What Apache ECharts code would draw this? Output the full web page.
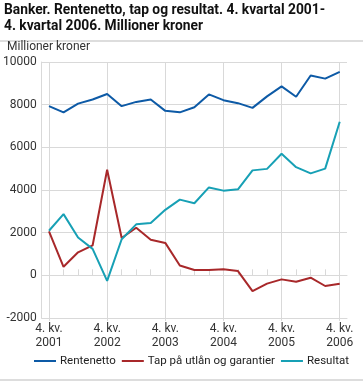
<!DOCTYPE html>
<html><head><meta charset="utf-8">
<script src="https://cdn.jsdelivr.net/npm/echarts@6/dist/echarts.min.js"></script>
<style>html,body{margin:0;padding:0;background:#fff}#c{width:363px;height:382px}</style>
</head><body><div id="c"></div>
<script>
const categories = [
 "4. kv. 2001","1. kv. 2002","2. kv. 2002","3. kv. 2002","4. kv. 2002",
 "1. kv. 2003","2. kv. 2003","3. kv. 2003","4. kv. 2003",
 "1. kv. 2004","2. kv. 2004","3. kv. 2004","4. kv. 2004",
 "1. kv. 2005","2. kv. 2005","3. kv. 2005","4. kv. 2005",
 "1. kv. 2006","2. kv. 2006","3. kv. 2006","4. kv. 2006"];
const rentenetto = [7930,7640,8050,8240,8500,7930,8130,8240,7710,7640,7880,8480,8210,8070,7850,8390,8860,8370,9370,9220,9540];
const tap = [2060,400,1080,1400,4950,1750,2230,1670,1520,460,250,250,290,200,-740,-390,-190,-300,-110,-500,-390];
const resultat = [2090,2870,1770,1240,-260,1690,2390,2450,3070,3550,3380,4120,3970,4030,4920,4990,5700,5070,4780,5000,7200];
const yTicks = {min:-2000, max:10000, interval:2000};
const seriesNames = ["Rentenetto","Tap på utlån og garantier","Resultat"];
const colors = ["#0d5aa6","#a8282a","#17a0b5"];
const title1 = "Banker. Rentenetto, tap og resultat. 4. kvartal 2001-";
const title2 = "4. kvartal 2006. Millioner kroner";
const yName = "Millioner kroner";

const font = "Roboto, 'Liberation Sans', sans-serif";
const chart = echarts.init(document.getElementById('c'), null, {renderer:'canvas'});
const grid = '#d9d9d9';
chart.setOption({
  animation:false,
  color: colors,
  textStyle:{fontFamily:font},
  graphic:[
    {type:'text', left:4, top:3, style:{text:title1+"\n"+title2, font:"bold 13.8px "+font, fill:'#111', lineHeight:16}},
    {type:'line', shape:{x1:0,y1:41,x2:363,y2:41}, style:{stroke:'#bbb', lineWidth:1}},
    {type:'line', shape:{x1:0,y1:380,x2:363,y2:380}, style:{stroke:'#bbb', lineWidth:1}},
    {type:'text', left:7, top:41, style:{text:yName, font:"12px "+font, fill:'#333'}}
  ],
  grid:{left:40, right:16, top:62, bottom:64},
  legend:{bottom:10, left:29, width:340, itemWidth:22, itemHeight:2, itemGap:6,
    textStyle:{fontSize:11.5, color:'#222', fontFamily:font, padding:[0,0,0,-1]},
    data:seriesNames.map((n,i)=>({name:n, icon:'rect'}))},
  xAxis:[{
    type:'category', data:categories, boundaryGap:true, position:'bottom',
    axisLine:{onZero:false, lineStyle:{color:grid}},
    axisTick:{show:true, alignWithLabel:true, interval:3, length:3, lineStyle:{color:grid}},
    axisLabel:{interval:3, color:'#333', fontSize:12, lineHeight:14, margin:4,
      formatter:v=>v.replace(/ (\d{4})$/, '\n$1')},
    splitLine:{show:true, interval:3, alignWithLabel:true, lineStyle:{color:grid, width:1}}
  },{
    type:'category', data:categories, boundaryGap:true, position:'bottom',
    axisLine:{show:true, onZero:true, lineStyle:{color:grid}},
    axisTick:{show:true, inside:true, alignWithLabel:true, interval:0, length:6, lineStyle:{color:grid}},
    axisLabel:{show:false}, splitLine:{show:false}
  }],
  yAxis:{type:'value', min:yTicks.min, max:yTicks.max, interval:yTicks.interval,
    axisLine:{show:true, lineStyle:{color:grid}},
    axisTick:{show:false},
    axisLabel:{color:'#333', fontSize:12, margin:5, formatter:v=>String(v)},
    splitLine:{lineStyle:{color:grid, width:1}}},
  series:[
    {name:seriesNames[0], type:'line', data:rentenetto, symbol:'none', lineStyle:{width:2}},
    {name:seriesNames[1], type:'line', data:tap, symbol:'none', lineStyle:{width:2}},
    {name:seriesNames[2], type:'line', data:resultat, symbol:'none', lineStyle:{width:2}}
  ]
});
</script></body></html>
